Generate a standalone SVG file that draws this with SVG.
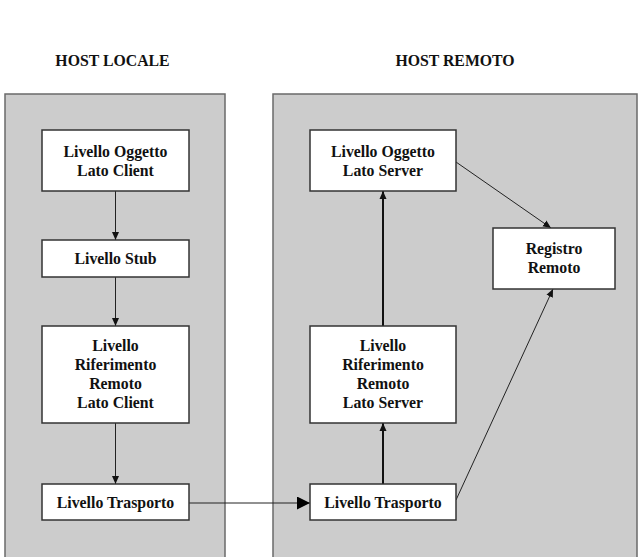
<svg xmlns="http://www.w3.org/2000/svg" width="643" height="557" viewBox="0 0 643 557">
<style>
.panel{fill:#cccccc;stroke:#6a6a6a;stroke-width:1.5}
.box{fill:#ffffff;stroke:#333333;stroke-width:1.5}
text{font-family:"Liberation Serif","Times New Roman",serif;font-size:15.8px;font-weight:bold;fill:#111;text-anchor:middle}
.thin{stroke:#222;stroke-width:1;fill:none}
.thick{stroke:#111;stroke-width:2;fill:none}
.diag{stroke:#222;stroke-width:1;fill:none}
</style>
<defs>
<marker id="ah" markerUnits="userSpaceOnUse" markerWidth="8" markerHeight="8" refX="8" refY="4" orient="auto">
<path d="M0,0.5 L8,4 L0,7.5 z" fill="#111"/>
</marker>
<marker id="big" markerUnits="userSpaceOnUse" markerWidth="13" markerHeight="13" refX="13" refY="6.5" orient="auto">
<path d="M0,0 L13,6.5 L0,13 z" fill="#000"/>
</marker>
</defs>
<rect fill="#ffffff" x="0" y="0" width="643" height="557"/>
<g id="host-locale">
<rect class="panel" x="5" y="94" width="220" height="470"/>
<text x="112.5" y="65.5">HOST LOCALE</text>
</g>
<g id="host-remoto">
<rect class="panel" x="273" y="94" width="364" height="470"/>
<text x="455" y="65.5">HOST REMOTO</text>
</g>
<g id="connectors">
<line class="thin" x1="115.5" y1="191" x2="115.5" y2="240" marker-end="url(#ah)"/>
<line class="thin" x1="115.5" y1="277" x2="115.5" y2="326" marker-end="url(#ah)"/>
<line class="thin" x1="115.5" y1="423" x2="115.5" y2="484" marker-end="url(#ah)"/>
<line class="thin" x1="189" y1="503" x2="310" y2="503" marker-end="url(#big)"/>
<line class="thick" x1="383" y1="484" x2="383" y2="423" marker-end="url(#ah)"/>
<line class="thick" x1="383" y1="326" x2="383" y2="191" marker-end="url(#ah)"/>
<line class="diag" x1="456" y1="162" x2="551" y2="228" marker-end="url(#ah)"/>
<line class="diag" x1="456" y1="500" x2="553" y2="289" marker-end="url(#ah)"/>
</g>
<g id="oggetto-client">
<rect class="box" x="42" y="130" width="147" height="61"/>
<text x="115.5" y="156.5">Livello Oggetto</text>
<text x="115.5" y="175.5">Lato Client</text>
</g>
<g id="stub">
<rect class="box" x="42" y="240" width="147" height="37"/>
<text x="115.5" y="264">Livello Stub</text>
</g>
<g id="riferimento-client">
<rect class="box" x="42" y="326" width="147" height="97"/>
<text x="115.5" y="350.5">Livello</text>
<text x="115.5" y="369.5">Riferimento</text>
<text x="115.5" y="388.5">Remoto</text>
<text x="115.5" y="407.5">Lato Client</text>
</g>
<g id="trasporto-client">
<rect class="box" x="42" y="484" width="147" height="36"/>
<text x="115.5" y="507.5">Livello Trasporto</text>
</g>
<g id="oggetto-server">
<rect class="box" x="310" y="130" width="146" height="61"/>
<text x="383" y="156.5">Livello Oggetto</text>
<text x="383" y="175.5">Lato Server</text>
</g>
<g id="riferimento-server">
<rect class="box" x="310" y="326" width="146" height="97"/>
<text x="383" y="350.5">Livello</text>
<text x="383" y="369.5">Riferimento</text>
<text x="383" y="388.5">Remoto</text>
<text x="383" y="407.5">Lato Server</text>
</g>
<g id="trasporto-server">
<rect class="box" x="310" y="484" width="146" height="36"/>
<text x="383" y="507.5">Livello Trasporto</text>
</g>
<g id="registro">
<rect class="box" x="493" y="228" width="122" height="61"/>
<text x="554" y="253.5">Registro</text>
<text x="554" y="272.5">Remoto</text>
</g>
</svg>
